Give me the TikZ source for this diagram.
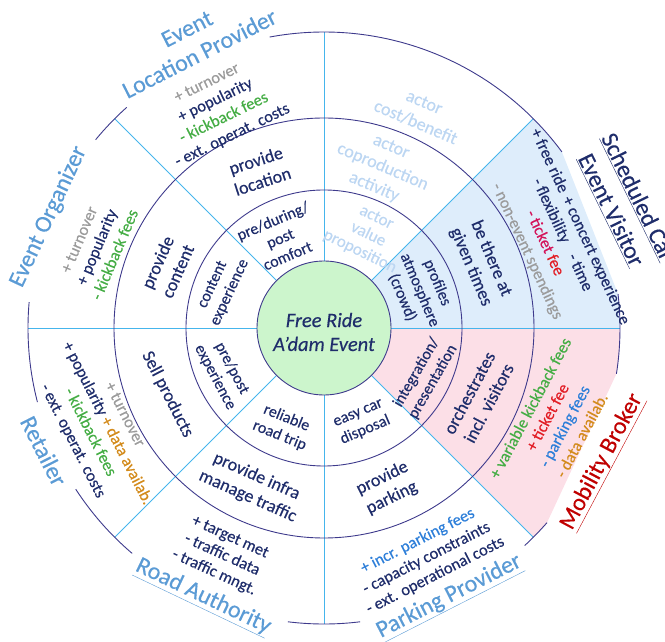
\documentclass[tikz,border=0pt]{standalone}
\usepackage{fontspec}
\setmainfont{Carlito}[FakeBold=0.35]
\definecolor{navy}{HTML}{1F2D6B}
\definecolor{ringline}{HTML}{3E3A8C}
\definecolor{divline}{HTML}{45B5EC}
\definecolor{evfill}{HTML}{DEEDFB}
\definecolor{mbfill}{HTML}{FCDFE7}
\definecolor{centerfill}{HTML}{CCF5CC}
\definecolor{actorblue}{HTML}{5B9BD5}
\definecolor{legendblue}{HTML}{BCD6F2}
\definecolor{cbgray}{HTML}{9B9B9B}
\definecolor{cbgreen}{HTML}{45AD45}
\definecolor{cborange}{HTML}{D38B1C}
\definecolor{cbred}{HTML}{E21E26}
\definecolor{cbcrimson}{HTML}{D4145A}
\definecolor{cbblue}{HTML}{2E7FD9}
\definecolor{mbred}{HTML}{C00000}
\begin{document}
\begin{tikzpicture}[x=1bp,y=1bp,
  ring/.style={draw=ringline, line width=0.9bp},
  divider/.style={draw=divline, line width=0.8bp},
  rA/.style={font=\fontsize{16}{19}\selectfont, text=navy, align=center, inner sep=0pt},
  rB/.style={font=\fontsize{18}{22}\selectfont, text=navy, align=center, inner sep=0pt},
  cb/.style={font=\fontsize{16.5}{19.5}\selectfont, text=navy, align=center, inner sep=0pt},
  actor/.style={font=\fontsize{24}{28}\selectfont, text=actorblue, align=center, inner sep=0pt},
  leg/.style={text=legendblue},
  titletext/.style={font=\itshape\fontsize{20.5}{24}\selectfont, text=navy, align=center, inner sep=0pt}
]
\useasboundingbox (-324,-314) rectangle (341,328);
% sector fills
\fill[evfill] (0:67) -- (0:296) arc[start angle=0,end angle=6.6,radius=296] -- (36.5:296)
  arc[start angle=36.5,end angle=45,radius=296] -- (45:67) arc[start angle=45,end angle=0,radius=67] -- cycle;
\fill[mbfill] (0:67) -- (0:296) arc[start angle=0,end angle=-8.9,radius=296] -- (-41.1:296)
  arc[start angle=-41.1,end angle=-45,radius=296] -- (-45:67) arc[start angle=-45,end angle=0,radius=67] -- cycle;
% dividers
\foreach \a in {0,45,...,315} \draw[divider] (\a:67) -- (\a:296);
% rings
\draw[ring] (0,0) circle[radius=138];
\draw[ring] (0,0) circle[radius=210];
% outer arcs
\foreach \s/\e in {36.5/100.6, 131.8/140.5, 175/194.5, 213/229.6, 263/277, 312.7/318.9, -8.9/6.6}
  \draw[ring] (\s:296) arc[start angle=\s, end angle=\e, radius=296];
% centre
\draw[ring, fill=centerfill] (0,0) circle[radius=67];
\node[titletext] (title) at (0,-4) {Free Ride\\A’dam Event};
% ring 2
\node[rA, rotate=23] (elp2) at (116:100) {pre/during/\\post\\comfort};
\node[rA, rotate=65] (eo2) at (159:110) {content\\experience};
\node[rA, rotate=-62] (ret2) at (204:110) {pre/post\\experience};
\node[rA, rotate=-22] (ra2) at (247.5:107) {reliable\\road trip};
\node[rA, rotate=23] (pp2) at (292:102) {easy car\\disposal};
\node[rA, rotate=60] (mb2) at (334:112) {integration/\\presentation};
\node[rA, rotate=-67] (ev2) at (21.6:103) {profiles\\atmosphere\\(crowd)};
\node[rA, leg, font=\fontsize{17}{19}\selectfont, rotate=-26] (lg2) at (64.7:103) {actor\\value\\proposition};
% ring 3
\node[rB, rotate=18] (elp3) at (112.4:170) {provide\\location};
\node[rB, rotate=66] (eo3) at (158.6:168) {provide\\content};
\node[rB, rotate=-63] (ret3) at (203:170) {Sell products};
\node[rB, rotate=-24] (ra3) at (245.6:174) {provide infra\\manage traffic};
\node[rB, rotate=26] (pp3) at (291.5:172) {provide\\parking};
\node[rB, rotate=62] (mb3) at (335.7:170) {orchestrates\\incl. visitors};
\node[rB, rotate=-67] (ev3) at (22.6:170) {be there at\\given times};
\node[rB, leg, rotate=-23] (lg3) at (70:171) {actor\\coproduction\\activity};
% ring 4
\node[cb, rotate=26] (elp4) at (115.5:242) {\textcolor{cbgray}{+ turnover}\\+ popularity\\\textcolor{cbgreen}{- kickback fees}\\- ext. operat. costs};
\node[cb, rotate=67] (eo4) at (160.4:241) {\textcolor{cbgray}{+ turnover}\\+ popularity\\\textcolor{cbgreen}{- kickback fees}};
\node[cb, rotate=-63] (ret4) at (203.9:247) {\textcolor{cbgray}{+ turnover}\\+ popularity \textcolor{cborange}{+ data availab.}\\\textcolor{cbgreen}{- kickback fees}\\- ext. operat. costs};
\node[cb, rotate=-24.5] (ra4) at (245.8:249) {+ target met\\- traffic data\\- traffic mngt.};
\node[cb, rotate=27] (pp4) at (294:252) {\textcolor{cbblue}{+ incr. parking fees}\\- capacity constraints\\- ext. operational costs};
\node[cb, rotate=62] (mb4) at (338:250) {\textcolor{cbgreen}{+ variable kickback fees}\\\textcolor{cbred}{+ ticket fee}\\\textcolor{cbblue}{- parking fees}\\\textcolor{cborange}{- data availab.}};
\node[cb, rotate=-65] (ev4) at (21.2:246) {+ free ride\hspace{6bp}+ concert experience\\- flexibility\hspace{14bp}- time\\\textcolor{cbcrimson}{- ticket} \textcolor{cbred}{fee}\\\textcolor{cbgray}{- non-event spendings}};
\node[rB, leg, rotate=-23] (lg4) at (66:236) {actor\\cost/benefit};
% actor labels
\node[actor, rotate=27] (elpL) at (114.5:315) {Event\\Location Provider};
\node[actor, rotate=65] (eoL) at (158:297) {Event Organizer};
\node[actor, rotate=-63] (retL) at (203.7:306) {Retailer};
\node[actor, rotate=-25.5] (raL) at (245.8:295) {\underline{Road Authority}};
\node[actor, rotate=27] (ppL) at (295:297) {\underline{Parking Provider}};
\node[actor, text=mbred, rotate=62] (mbL) at (334.3:309) {\underline{Mobility Broker}};
\node[actor, text=navy, font=\fontsize{24}{30}\selectfont, rotate=-64] (evL) at (22.5:325) {\underline{Scheduled Car}\\\underline{Event Visitor}};
\end{tikzpicture}
\end{document}
